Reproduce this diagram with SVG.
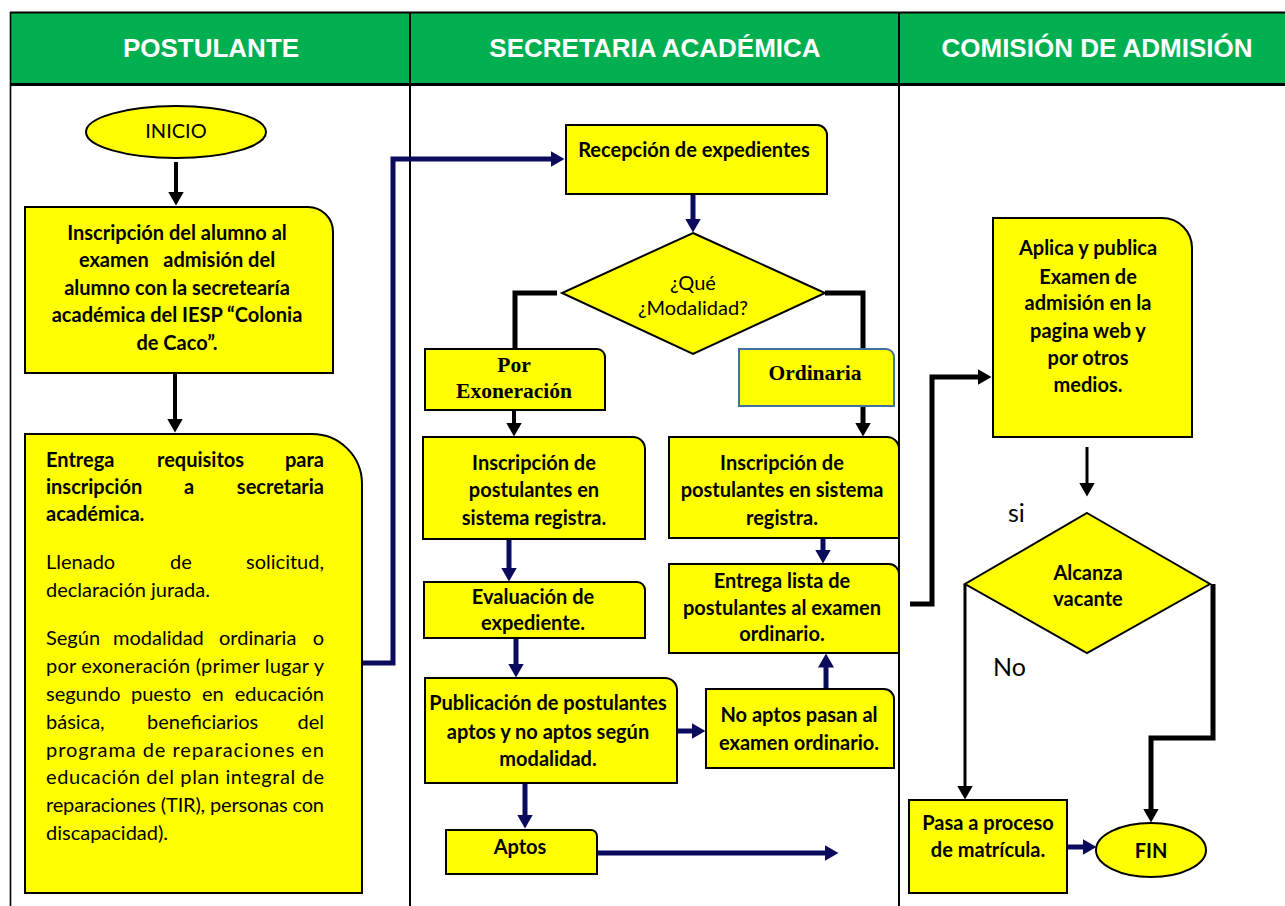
<svg xmlns="http://www.w3.org/2000/svg" width="1285" height="906" viewBox="0 0 1285 906">
  <style>
    .hdr { font-family: "Liberation Sans", Arial, sans-serif; font-weight: bold; font-size: 26px; fill: #ffffff; text-anchor: middle; }
    .grid { stroke: #000; fill: none; }
    .box { fill: #ffff00; stroke: #000; stroke-width: 2; }
    .box-blue { fill: #ffff00; stroke: #41719c; stroke-width: 2; }
    .t { font-family: Lato, "Liberation Sans", sans-serif; font-size: 20px; fill: #000; }
    .b { font-weight: bold; }
    .c { text-anchor: middle; }
    .serif { font-family: "Liberation Serif", "Times New Roman", serif; font-weight: bold; font-size: 21.5px; fill: #000; text-anchor: middle; }
    .lbl { font-family: Lato, "Liberation Sans", sans-serif; font-size: 25px; fill: #000; }
    .k { fill: none; stroke: #000; stroke-linejoin: miter; }
    .n { fill: none; stroke: #0b0b5e; stroke-width: 5; stroke-linejoin: miter; }
    .k5 { stroke-width: 5; }
    .k4 { stroke-width: 4; }
    .k3 { stroke-width: 3; }
  </style>
  <defs>
    <marker id="ah-k" viewBox="0 0 14 16" markerWidth="14" markerHeight="16" refX="0.5" refY="8" orient="auto" markerUnits="userSpaceOnUse">
      <path d="M0,0 L14,8 L0,16 Z" fill="#000"/>
    </marker>
    <marker id="ah-n" viewBox="0 0 14 16" markerWidth="14" markerHeight="16" refX="0.5" refY="8" orient="auto" markerUnits="userSpaceOnUse">
      <path d="M0,0 L14,8 L0,16 Z" fill="#0b0b5e"/>
    </marker>
  </defs>

  <rect width="1285" height="906" fill="#ffffff"/>

  <!-- swimlane table -->
  <g id="lanes">
    <rect x="10" y="12" width="1275" height="72" fill="#00b050"/>
    <line class="grid" x1="10" y1="12.5" x2="1285" y2="12.5" stroke-width="2"/>
    <line class="grid" x1="10" y1="84.5" x2="1285" y2="84.5" stroke-width="3"/>
    <line class="grid" x1="10.5" y1="12" x2="10.5" y2="906" stroke-width="1.6"/>
    <line class="grid" x1="410" y1="12" x2="410" y2="906" stroke-width="2"/>
    <line class="grid" x1="899" y1="12" x2="899" y2="906" stroke-width="2"/>
    <text class="hdr" x="211" y="57">POSTULANTE</text>
    <text class="hdr" x="655" y="57">SECRETARIA ACADÉMICA</text>
    <text class="hdr" x="1097" y="57">COMISIÓN DE ADMISIÓN</text>
  </g>

  <!-- connectors -->
  <g id="connectors">
    <path class="k k4" d="M176,162 V192" marker-end="url(#ah-k)"/>
    <path class="k k4" d="M175,373 V419" marker-end="url(#ah-k)"/>
    <path class="k k5" d="M557,293 H515 V349"/>
    <path class="k k5" d="M825,293 H863 V423" marker-end="url(#ah-k)"/>
    <path class="k k4" d="M514,410 V423" marker-end="url(#ah-k)"/>
    <path class="k k5" d="M910,604 H932 V377 H978" marker-end="url(#ah-k)"/>
    <path class="k k3" d="M1087,447 V483" marker-end="url(#ah-k)"/>
    <path class="k k3" d="M965,584 V786" marker-end="url(#ah-k)"/>
    <path class="k k5" d="M1213,584 V738 H1151 V809" marker-end="url(#ah-k)"/>

    <path class="n" d="M362,663 H393 V159 H551" marker-end="url(#ah-n)"/>
    <path class="n" d="M693,194 V219" marker-end="url(#ah-n)"/>
    <path class="n" d="M509,539 V568" marker-end="url(#ah-n)"/>
    <path class="n" d="M516,638 V664" marker-end="url(#ah-n)"/>
    <path class="n" d="M677,731 H692" marker-end="url(#ah-n)"/>
    <path class="n" d="M826,689 V667" marker-end="url(#ah-n)"/>
    <path class="n" d="M823,538 V550" marker-end="url(#ah-n)"/>
    <path class="n" d="M525,783 V815" marker-end="url(#ah-n)"/>
    <path class="n" d="M597,853 H825" marker-end="url(#ah-n)"/>
    <path class="n" d="M1067,847 H1083" marker-end="url(#ah-n)"/>
  </g>

  <!-- POSTULANTE lane -->
  <g id="inicio">
    <ellipse class="box" cx="176" cy="132" rx="90" ry="26"/>
    <text class="t c" x="176" y="138" font-size="18">INICIO</text>
  </g>

  <g id="inscripcion-alumno">
    <path class="box" d="M25,207 H308 A25,25 0 0 1 333,232 V373 H25 Z"/>
    <text class="t b c" x="177" y="240">Inscripción del alumno al</text>
    <text class="t b c" x="177" y="267" xml:space="preserve">examen   admisión del</text>
    <text class="t b c" x="177" y="295">alumno con la secretearía</text>
    <text class="t b c" x="177" y="322">académica del IESP “Colonia</text>
    <text class="t b c" x="177" y="350">de Caco”.</text>
  </g>

  <g id="entrega-requisitos">
    <path class="box" d="M25,434 H312 A50,50 0 0 1 362,484 V893 H25 Z"/>
    <text class="t b" y="467"><tspan x="46">Entrega</tspan><tspan x="157">requisitos</tspan><tspan x="324" text-anchor="end">para</tspan></text>
    <text class="t b" y="494"><tspan x="46">inscripción</tspan><tspan x="189" text-anchor="middle">a</tspan><tspan x="324" text-anchor="end">secretaria</tspan></text>
    <text class="t b" x="46" y="521">académica.</text>
    <text class="t" y="569"><tspan x="46">Llenado</tspan><tspan x="170">de</tspan><tspan x="324" text-anchor="end">solicitud,</tspan></text>
    <text class="t" x="46" y="597">declaración jurada.</text>
    <text class="t" y="645"><tspan x="46">Según</tspan><tspan x="113">modalidad</tspan><tspan x="219">ordinaria</tspan><tspan x="324" text-anchor="end">o</tspan></text>
    <text class="t" x="46" y="673" textLength="278" lengthAdjust="spacing">por exoneración (primer lugar y</text>
    <text class="t" y="701"><tspan x="46">segundo</tspan><tspan x="131">puesto</tspan><tspan x="202">en</tspan><tspan x="324" text-anchor="end">educación</tspan></text>
    <text class="t" y="729"><tspan x="46">básica,</tspan><tspan x="147">beneficiarios</tspan><tspan x="324" text-anchor="end">del</tspan></text>
    <text class="t" x="46" y="757" textLength="278" lengthAdjust="spacing">programa de reparaciones en</text>
    <text class="t" x="46" y="784" textLength="278" lengthAdjust="spacing">educación del plan integral de</text>
    <text class="t" x="46" y="812" textLength="278" lengthAdjust="spacing">reparaciones (TIR), personas con</text>
    <text class="t" x="46" y="840">discapacidad).</text>
  </g>

  <!-- SECRETARIA ACADÉMICA lane -->
  <g id="recepcion">
    <path class="box" d="M566,125 H817 A10,10 0 0 1 827,135 V194 H566 Z"/>
    <text class="t b c" x="694" y="157">Recepción de expedientes</text>
  </g>

  <g id="modalidad">
    <polygon class="box" points="693,233 825,293 693,354 562,293"/>
    <text class="t c" x="693" y="290">¿Qué</text>
    <text class="t c" x="693" y="315">¿Modalidad?</text>
  </g>

  <g id="por-exoneracion">
    <path class="box" d="M425,349 H597 A8,8 0 0 1 605,357 V410 H425 Z"/>
    <text class="serif" x="514" y="372">Por</text>
    <text class="serif" x="514" y="398">Exoneración</text>
  </g>

  <g id="ordinaria">
    <path class="box-blue" d="M739,349 H886 A8,8 0 0 1 894,357 V406 H739 Z"/>
    <text class="serif" x="815" y="380">Ordinaria</text>
  </g>

  <g id="inscripcion-exoneracion">
    <path class="box" d="M423,437 H633 A12,12 0 0 1 645,449 V539 H423 Z"/>
    <text class="t b c" x="534" y="470">Inscripción de</text>
    <text class="t b c" x="534" y="497">postulantes en</text>
    <text class="t b c" x="534" y="525">sistema registra.</text>
  </g>

  <g id="inscripcion-ordinaria">
    <path class="box" d="M669,437 H887 A12,12 0 0 1 899,449 V538 H669 Z"/>
    <text class="t b c" x="782" y="470">Inscripción de</text>
    <text class="t b c" x="782" y="497">postulantes en sistema</text>
    <text class="t b c" x="782" y="525">registra.</text>
  </g>

  <g id="evaluacion">
    <path class="box" d="M424,582 H637 A8,8 0 0 1 645,590 V638 H424 Z"/>
    <text class="t b c" x="533" y="604">Evaluación de</text>
    <text class="t b c" x="533" y="630">expediente.</text>
  </g>

  <g id="entrega-lista">
    <path class="box" d="M669,564 H889 A10,10 0 0 1 899,574 V653 H669 Z"/>
    <text class="t b c" x="782" y="588">Entrega lista de</text>
    <text class="t b c" x="782" y="615">postulantes al examen</text>
    <text class="t b c" x="782" y="641">ordinario.</text>
  </g>

  <g id="publicacion">
    <path class="box" d="M425,678 H665 A12,12 0 0 1 677,690 V783 H425 Z"/>
    <text class="t b c" x="548" y="710">Publicación de postulantes</text>
    <text class="t b c" x="548" y="739">aptos y no aptos según</text>
    <text class="t b c" x="548" y="766">modalidad.</text>
  </g>

  <g id="no-aptos">
    <path class="box" d="M706,689 H884 A10,10 0 0 1 894,699 V768 H706 Z"/>
    <text class="t b c" x="799" y="722">No aptos pasan al</text>
    <text class="t b c" x="799" y="750">examen ordinario.</text>
  </g>

  <g id="aptos">
    <path class="box" d="M446,830 H591 A6,6 0 0 1 597,836 V874 H446 Z"/>
    <text class="t b c" x="520" y="854">Aptos</text>
  </g>

  <!-- COMISIÓN DE ADMISIÓN lane -->
  <g id="aplica-examen">
    <path class="box" d="M993,218 H1162 A30,30 0 0 1 1192,248 V437 H993 Z"/>
    <text class="t b c" x="1088" y="255">Aplica y publica</text>
    <text class="t b c" x="1088" y="284">Examen de</text>
    <text class="t b c" x="1088" y="310">admisión en la</text>
    <text class="t b c" x="1088" y="338">pagina web y</text>
    <text class="t b c" x="1088" y="365">por otros</text>
    <text class="t b c" x="1088" y="392">medios.</text>
  </g>

  <g id="alcanza-vacante">
    <polygon class="box" points="1087,513 1210,584 1087,653 965,584"/>
    <text class="t b c" x="1088" y="580">Alcanza</text>
    <text class="t b c" x="1088" y="606">vacante</text>
  </g>

  <g id="labels">
    <text class="lbl" x="1008" y="522">si</text>
    <text class="lbl" x="993" y="676">No</text>
  </g>

  <g id="pasa-matricula">
    <rect class="box" x="909" y="800" width="158" height="93"/>
    <text class="t b c" x="988" y="830">Pasa a proceso</text>
    <text class="t b c" x="988" y="857">de matrícula.</text>
  </g>

  <g id="fin">
    <ellipse class="box" cx="1151" cy="850" rx="55" ry="27"/>
    <text class="t b c" x="1151" y="858" font-size="24">FIN</text>
  </g>
</svg>
